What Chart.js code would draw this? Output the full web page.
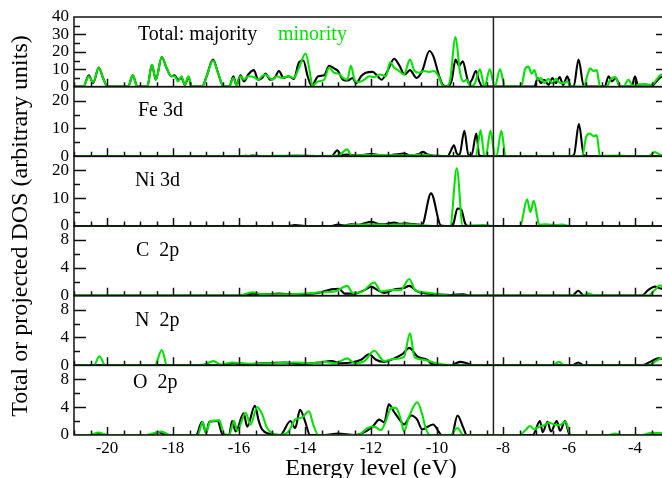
<!DOCTYPE html>
<html><head><meta charset="utf-8">
<script src="https://cdn.jsdelivr.net/npm/chart.js@4"></script>
<style>
html,body{margin:0;padding:0;background:#fff;overflow:hidden}
#wrap{width:662px;height:478px;overflow:hidden;position:relative;background:#fff}
canvas{display:block}
</style></head><body>
<div id="wrap"><canvas id="c" width="680" height="483"></canvas></div>
<script>
// ---- data (energy eV, DOS arbitrary units) ----
const xTickLabels = [-20,-18,-16,-14,-12,-10,-8,-6,-4];
const panelNames = ['Total: majority','Fe 3d','Ni 3d','C  2p','N  2p','O  2p'];
const minorityLabel = 'minority';
const yMaxes = [40,25,25,10,10,10];
const yMajorSteps = [10,10,10,4,4,4];
const yMinorSteps = [5,5,5,2,2,2];
const fermiLevel = -8.29;

const totalMaj = [[-21,0],[-20.72,0],[-20.55,6.5],[-20.42,2],[-20.25,11],[-20.12,5],[-19.98,0],
[-19.36,0],[-19.22,6.5],[-19.08,0],[-18.78,0],[-18.64,12.5],[-18.52,4],[-18.34,17],[-18.2,11],[-18.05,6],[-17.95,6.5],[-17.85,4],[-17.74,5],[-17.64,1],[-17.53,5.5],[-17.43,0],
[-17.12,0],[-16.98,6],[-16.79,15.5],[-16.62,7],[-16.47,0],[-16.3,0],[-16.17,6],[-16.08,1],[-15.95,6.5],[-15.85,3],[-15.72,7],[-15.55,9.5],[-15.42,4],[-15.3,5],[-15.2,7.5],[-15.05,4],[-14.92,5],[-14.79,9],[-14.65,5],[-14.5,6],[-14.34,4.5],[-14.18,14],[-14.05,15],[-13.92,6],[-13.8,0.5],[-13.6,6],[-13.42,6.5],[-13.27,12],[-13.12,10.5],[-13.0,9],[-12.85,4],[-12.7,3.5],[-12.56,5],[-12.45,2],[-12.3,6],[-12.16,8],[-11.95,8.5],[-11.8,6],[-11.68,4],[-11.5,9],[-11.3,16],[-11.15,12.5],[-10.98,7],[-10.82,9.5],[-10.62,5],[-10.45,9],[-10.23,20.5],[-10.1,17],[-9.95,7],[-9.82,1],[-9.68,0],[-9.55,4],[-9.44,15.5],[-9.33,12],[-9.22,14.5],[-9.1,6],[-9.04,2],[-8.94,4],[-8.82,9],[-8.72,3],[-8.62,0],
[-7.05,0],[-6.95,5],[-6.85,2],[-6.75,4],[-6.62,1],[-6.5,5],[-6.4,2],[-6.28,5.5],[-6.18,1],[-6.05,6],[-5.95,0],[-5.86,0],[-5.71,15.5],[-5.55,0],
[-4.92,0],[-4.8,6],[-4.7,3],[-4.58,5],[-4.45,0],[-4.1,0],[-4.0,6],[-3.9,0],[-3.5,0],[-3.4,2],[-3.25,5],[-3.1,6],[-3,5]];
const totalMin = [[-21,0],[-20.72,0],[-20.55,6],[-20.42,2.5],[-20.25,11],[-20.12,5],[-19.98,0],[-19.36,0],[-19.22,6.5],[-19.08,0],[-18.78,0],[-18.64,12.5],[-18.52,4],[-18.34,17],[-18.2,11],[-18.05,6],[-17.95,6],[-17.85,3],[-17.74,6],[-17.64,1],[-17.53,6],[-17.43,0],[-17.12,0],[-16.98,6],[-16.79,15],[-16.62,7],[-16.47,0],[-16.3,0],[-16.17,5],[-16.08,1],[-15.95,6],[-15.85,4],[-15.72,6],[-15.55,5.5],[-15.42,4],[-15.3,6],[-15.2,7],[-15.1,5.5],[-15.0,4],[-14.85,6],[-14.7,5],[-14.5,6],[-14.34,5],[-14.2,10],[-13.98,19],[-13.85,8],[-13.78,0.5],[-13.6,3],[-13.42,4],[-13.27,11],[-13.12,8],[-12.98,7.5],[-12.85,5],[-12.72,4],[-12.61,12],[-12.5,4],[-12.4,2.5],[-12.2,4],[-12.05,6],[-11.9,5.5],[-11.72,7],[-11.55,6],[-11.42,14],[-11.3,11],[-11.15,9],[-11.0,7],[-10.82,15.5],[-10.68,9],[-10.54,8],[-10.4,9],[-10.23,8.5],[-10.1,9],[-9.95,6],[-9.85,1],[-9.72,0],[-9.6,4],[-9.44,28.5],[-9.3,8],[-9.2,3],[-9.1,4],[-8.98,0],[-8.85,2],[-8.7,10],[-8.56,0],[-8.4,10],[-8.25,0],[-8.09,10],[-7.94,0],
[-7.45,0],[-7.33,10],[-7.23,11.5],[-7.13,7.5],[-7.05,9.5],[-6.95,4],[-6.85,5],[-6.75,2],[-6.62,4.5],[-6.5,2],[-6.4,4.5],[-6.3,2.5],[-6.17,2],[-6.05,3],[-5.95,0],[-5.55,0],[-5.45,6],[-5.36,10.5],[-5.25,9],[-5.16,9.5],[-5.06,0],
[-4.85,0],[-4.75,4],[-4.6,5.5],[-4.45,0],[-4.35,0],[-4.2,4],[-4.05,0],[-3.95,1],[-3.7,1.5],[-3.5,1],[-3.35,4],[-3.2,7],[-3.1,4],[-3,4]];

const feMaj = [[-21,0],[-15.8,0],[-15.6,0.3],[-15.3,0],[-14.3,0.2],[-13.9,0.2],[-13.2,0],[-13.02,2.2],[-12.9,0.5],[-12.7,0.6],[-12.4,0.3],[-12.0,0.8],[-11.6,0.3],[-11.3,0.6],[-11.0,1],[-10.8,0.3],[-10.55,0.8],[-10.43,1.6],[-10.3,0.8],[-10.15,0.3],[-9.95,0.2],[-9.68,0],[-9.58,2],[-9.49,4],[-9.4,1],[-9.32,0.5],[-9.17,9.2],[-9.05,0.5],[-8.95,0.5],[-8.81,8.2],[-8.72,0.3],[-8.6,0],[-6.0,0],[-5.85,0.5],[-5.7,11.6],[-5.55,0.3],[-5.4,0],[-3,0]];
const feMin = [[-21,0],[-16.0,0],[-15.8,0.3],[-15.6,0],[-14.2,0.3],[-14.0,0],[-13.0,0.3],[-12.72,2.5],[-12.6,0.3],[-12.3,0.4],[-11.9,0.5],[-11.3,0.4],[-10.9,0.3],[-10.5,0.6],[-10.2,0.3],[-9.9,0],[-8.82,0],[-8.68,9.4],[-8.56,0],[-8.52,0],[-8.38,9.2],[-8.24,0],[-8.2,0],[-8.05,9.2],[-7.92,0],[-5.6,0],[-5.48,7],[-5.37,8.2],[-5.25,7.2],[-5.16,7.6],[-5.06,0],[-4.9,0.2],[-4.5,0.3],[-4.2,0],[-3.6,0],[-3.4,1.5],[-3.2,0.5],[-3,1]];

const niMaj = [[-21,0],[-14.5,0],[-14.3,0.3],[-14.0,0],[-13.2,0],[-13.0,0.5],[-12.8,0.2],[-12.6,0.6],[-12.4,0.4],[-12.2,1],[-12.0,1.5],[-11.8,0.8],[-11.6,0.6],[-11.45,1],[-11.3,1.2],[-11.1,0.8],[-10.95,1],[-10.75,0.7],[-10.55,0.5],[-10.46,0.3],[-10.18,11.7],[-9.88,0.2],[-9.6,0],[-9.5,1],[-9.38,6.3],[-9.27,6],[-9.15,1],[-9.05,0],[-3,0]];
const niMin = [[-21,0],[-13.0,0],[-12.5,0.4],[-12.0,0.6],[-11.5,0.4],[-11.0,0.6],[-10.5,0.3],[-10.0,0],[-9.6,0],[-9.4,20.7],[-9.22,0],[-9.0,0.2],[-8.6,0.3],[-8.3,0],[-7.48,0],[-7.27,9.6],[-7.17,5],[-7.07,9],[-6.9,0.5],[-6.7,0.6],[-6.4,0.3],[-6.2,0.5],[-6.0,0],[-3,0]];

const cMaj = [[-21,0],[-16.0,0],[-15.6,0.3],[-15.2,0.2],[-14.8,0.3],[-14.3,0.2],[-13.6,0.4],[-13.2,0.9],[-12.97,1],[-12.8,0.3],[-12.5,0.3],[-12.2,0.8],[-12.0,1.3],[-11.8,0.8],[-11.6,0.4],[-11.3,0.9],[-11.0,1.1],[-10.84,1.4],[-10.6,0.6],[-10.3,0.3],[-10.0,0.2],[-9.6,0.1],[-9.2,0.2],[-9.0,0],[-5.9,0],[-5.72,0.7],[-5.55,0],[-3.8,0],[-3.6,0.8],[-3.4,1.3],[-3.2,1],[-3,1.2]];
const cMin = [[-21,0],[-16.0,0],[-15.6,0.5],[-15.3,0.2],[-14.5,0.2],[-14.0,0.3],[-13.5,0.5],[-13.1,0.6],[-12.72,1.4],[-12.55,0.4],[-12.3,0.5],[-11.9,1.9],[-11.7,0.6],[-11.4,0.8],[-11.1,0.8],[-10.84,2.4],[-10.65,0.7],[-10.4,0.5],[-10.1,0.3],[-9.8,0.1],[-9.4,0],[-5.6,0],[-5.4,0.3],[-5.2,0],[-3.6,0],[-3.4,0.8],[-3.25,1.5],[-3.1,0.9],[-3,0.6]];

const nMaj = [[-21,0],[-16.5,0],[-16.2,0.3],[-15.8,0.2],[-15.2,0.3],[-14.6,0.4],[-14.2,0.2],[-13.6,0.4],[-13.2,0.6],[-12.9,0.3],[-12.6,0.4],[-12.3,0.8],[-12.06,1.6],[-11.85,0.8],[-11.6,0.5],[-11.3,1.0],[-11.05,1.6],[-10.84,2.5],[-10.6,1.3],[-10.3,0.8],[-10.15,0.2],[-9.6,0],[-9.3,0.5],[-9.1,0.3],[-8.9,0],[-5.9,0],[-5.72,0.4],[-5.55,0],[-3.8,0],[-3.5,0.6],[-3.3,1],[-3,0.8]];
const nMin = [[-21,0],[-20.4,0],[-20.23,1.3],[-20.05,0],[-18.55,0],[-18.34,2.2],[-18.18,0],[-17.2,0],[-16.95,0.3],[-16.77,0.6],[-16.55,0.1],[-16.2,0.4],[-15.6,0.2],[-15.0,0.3],[-14.3,0.4],[-13.8,0.3],[-13.4,0.5],[-13.1,0.3],[-12.72,1],[-12.5,0.3],[-12.2,0.6],[-11.9,2.1],[-11.6,0.6],[-11.3,0.9],[-11.0,1.2],[-10.82,4.6],[-10.68,1.2],[-10.4,0.8],[-10.1,0.4],[-9.8,0.1],[-9.2,0],[-6.5,0],[-6.3,0.5],[-6.15,0],[-3.6,0],[-3.3,0.8],[-3.1,1.2],[-3,1]];

const oMaj = [[-21,0],[-20.5,0],[-20.3,0.2],[-20.0,0],[-18.7,0],[-18.45,0.4],[-18.2,0],[-17.3,0],[-17.12,1.9],[-17.0,0.3],[-16.9,1.9],[-16.65,2],[-16.5,0.1],[-16.3,0],[-16.21,2],[-16.1,0.5],[-15.86,3.1],[-15.75,1.2],[-15.52,4.2],[-15.4,2],[-15.3,0.8],[-15.1,0.2],[-14.75,0],[-14.44,2],[-14.3,1],[-14.15,3.6],[-14.0,2],[-13.85,0],[-13.4,0],[-13.0,0.2],[-12.5,0],[-12.3,0.2],[-11.95,1.2],[-11.75,2.2],[-11.6,1.8],[-11.46,4.4],[-11.3,3.3],[-11.1,2],[-11.0,1.5],[-10.78,2.8],[-10.6,2.2],[-10.45,0.8],[-10.12,1.5],[-9.85,0],[-9.55,0],[-9.38,2.8],[-9.2,1],[-9.1,0],[-7.1,0],[-6.88,2],[-6.8,0.4],[-6.65,1.9],[-6.55,0.5],[-6.37,2],[-6.27,0.6],[-6.12,2],[-5.98,0],[-3,0]];
const oMin = [[-21,0],[-20.5,0],[-20.26,0.35],[-20.0,0],[-18.8,0],[-18.5,0.4],[-18.35,0.5],[-18.1,0],[-17.25,0],[-17.1,1.9],[-17.0,0.3],[-16.88,1.9],[-16.6,2.1],[-16.45,0.1],[-16.3,0],[-16.15,2],[-16.05,0.6],[-15.8,3.2],[-15.65,1.5],[-15.45,4],[-15.3,3],[-15.15,1],[-15.0,0.3],[-14.8,0],[-14.5,0.5],[-14.3,2.2],[-14.1,2.5],[-13.88,3.4],[-13.75,1.5],[-13.6,0],[-12.4,0],[-12.1,1],[-11.9,1.2],[-11.7,0.7],[-11.55,2],[-11.39,3.9],[-11.25,3.9],[-11.1,2.3],[-11.0,0.5],[-10.85,2.6],[-10.6,4.7],[-10.45,3],[-10.35,1.1],[-10.22,0],[-9.6,0],[-9.38,1],[-9.2,0],[-7.5,0],[-7.3,0.8],[-7.18,1.3],[-7.05,0.8],[-6.9,1.2],[-6.75,1.4],[-6.62,1.8],[-6.45,1.5],[-6.3,1.4],[-6.1,1.9],[-5.95,0],[-4.8,0],[-4.6,0.2],[-4.4,0],[-3.8,0],[-3.5,0.3],[-3,0.2]];

const majoritySeries = [totalMaj, feMaj, niMaj, cMaj, nMaj, oMaj];
const minoritySeries = [totalMin, feMin, niMin, cMin, nMin, oMin];

// ---- styling ----
const SERIF = "'Liberation Serif','Times New Roman',serif";
const BLACK = '#000000';
const GREEN = '#00e400';
const labelOffsets = [[64,23],[64,29],[61,30],[62,30],[61,30],[59,23]];

const toXY = arr => arr.map(p => ({x:p[0], y:p[1]}));
const datasets = [];
for (let i = 0; i < 6; i++) {
  datasets.push({data: toXY(majoritySeries[i]), yAxisID: 'y'+i, borderColor: BLACK, borderWidth: 2.1, pointRadius: 0, tension: 0.4, cubicInterpolationMode: 'monotone', order: 2});
  datasets.push({data: toXY(minoritySeries[i]), yAxisID: 'y'+i, borderColor: GREEN, borderWidth: 2.1, pointRadius: 0, tension: 0.4, cubicInterpolationMode: 'monotone', order: 1});
}

const scales = {
  x: {
    type: 'linear', position: 'bottom', min: -21, max: -3,
    afterBuildTicks: s => { s.ticks = xTickLabels.map(v => ({value: v})); },
    ticks: {font: {family: SERIF, size: 17}, color: BLACK, padding: 3, maxRotation: 0, autoSkip: false},
    grid: {display: false, drawTicks: false}, border: {display: false},
    title: {display: true, text: 'Energy level (eV)', font: {family: SERIF, size: 24}, color: BLACK, padding: {top: 0, bottom: 0}},
    afterFit: s => { s.height = 48; }
  }
};
for (let i = 0; i < 6; i++) {
  const step = yMajorSteps[i];
  scales['y'+i] = {
    type: 'linear', position: 'left', stack: 'dos', stackWeight: 1, weight: 6 - i,
    min: 0, max: yMaxes[i],
    afterBuildTicks: s => { const t = []; for (let v = 0; v <= yMaxes[i] + 1e-9; v += step) t.push({value: v}); s.ticks = t; },
    ticks: {font: {family: SERIF, size: 17}, color: BLACK, padding: 5, autoSkip: false},
    grid: {display: false, drawTicks: false}, border: {display: false},
    afterFit: s => { s.width = 74; }
  };
}

const framePlugin = {
  id: 'frame',
  afterDraw(chart) {
    const ctx = chart.ctx, xs = chart.scales.x, ca = chart.chartArea;
    ctx.save();
    ctx.strokeStyle = '#111';
    ctx.lineWidth = 1.5;
    for (let i = 0; i < 6; i++) {
      const ys = chart.scales['y'+i];
      ctx.strokeRect(ca.left, ys.top, ca.right - ca.left, ys.bottom - ys.top);
      ctx.beginPath();
      for (let v = -21; v <= -3 + 1e-9; v += 0.5) {
        const px = Math.round(xs.getPixelForValue(v)) + 0.5;
        const len = (Math.abs(v % 2) < 1e-9) ? 8 : 4.5;
        ctx.moveTo(px, ys.bottom); ctx.lineTo(px, ys.bottom - len);
      }
      const minor = yMinorSteps[i], major = yMajorSteps[i];
      for (let v = minor; v < yMaxes[i] - 1e-9; v += minor) {
        const py = Math.round(ys.getPixelForValue(v)) + 0.5;
        const len = (Math.abs(v % major) < 1e-9) ? 12 : 6;
        ctx.moveTo(ca.left, py); ctx.lineTo(ca.left + len, py);
        ctx.moveTo(ca.right, py); ctx.lineTo(ca.right - len, py);
      }
      ctx.stroke();
      ctx.fillStyle = BLACK;
      ctx.font = '20px ' + SERIF;
      ctx.textBaseline = 'alphabetic';
      ctx.textAlign = 'left';
      ctx.fillText(panelNames[i], ca.left + labelOffsets[i][0], ys.top + labelOffsets[i][1]);
      if (i === 0) {
        ctx.fillStyle = GREEN;
        ctx.fillText(minorityLabel, ca.left + 204, ys.top + labelOffsets[i][1]);
      }
    }
    const fx = xs.getPixelForValue(fermiLevel);
    ctx.strokeStyle = '#222';
    ctx.lineWidth = 1.5;
    ctx.beginPath(); ctx.moveTo(fx, ca.top); ctx.lineTo(fx, ca.bottom); ctx.stroke();
    ctx.fillStyle = BLACK;
    ctx.font = '24px ' + SERIF;
    ctx.translate(27, (ca.top + ca.bottom) / 2);
    ctx.rotate(-Math.PI / 2);
    ctx.textAlign = 'center';
    ctx.textBaseline = 'alphabetic';
    ctx.fillText('Total or projected DOS (arbitrary units)', 0, 0);
    ctx.restore();
  }
};

new Chart(document.getElementById('c'), {
  type: 'line',
  data: {datasets},
  options: {
    responsive: false, devicePixelRatio: 1, animation: false,
    layout: {padding: {top: 17, right: 12, left: 0, bottom: 0}},
    plugins: {legend: {display: false}, tooltip: {enabled: false}},
    scales
  },
  plugins: [framePlugin]
});
</script>
</body></html>
